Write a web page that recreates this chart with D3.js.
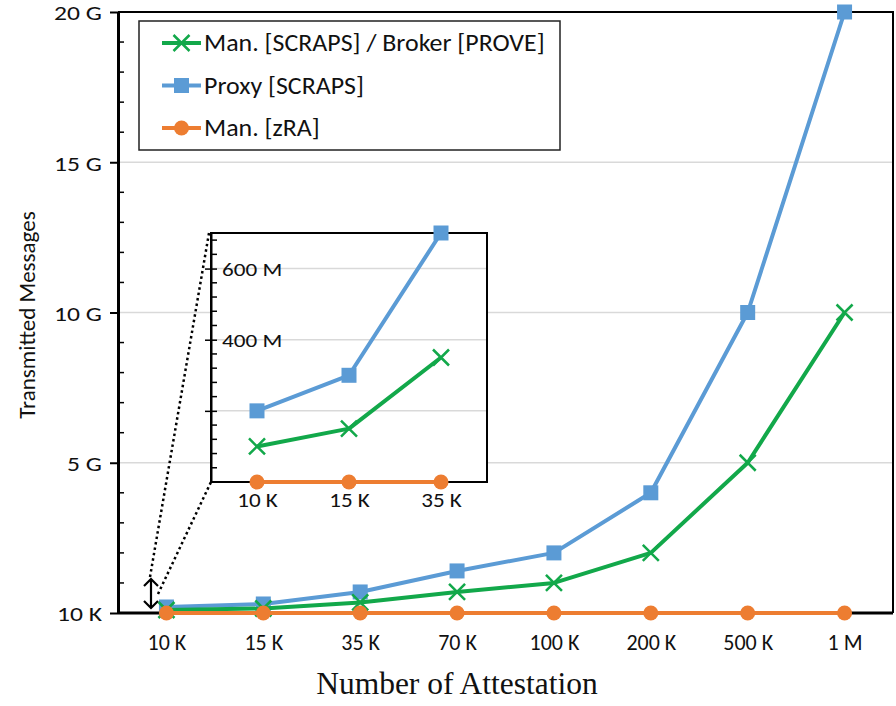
<!DOCTYPE html>
<html><head><meta charset="utf-8">
<script src="https://cdn.jsdelivr.net/npm/d3@7"></script>
<style>body{margin:0;background:#fff}svg{display:block}</style>
</head><body>
<svg id="c" width="896" height="706"></svg>
<script>
const categories = ["10 K","15 K","35 K","70 K","100 K","200 K","500 K","1 M"];
const manScrapsBroker = [100e6,150e6,350e6,700e6,1e9,2e9,5e9,10e9];
const proxyScraps = [200e6,300e6,700e6,1.4e9,2e9,4e9,10e9,20e9];
const manZra = [10e3,15e3,35e3,70e3,100e3,200e3,500e3,1e6];
const mainTicks = [10e3,5e9,10e9,15e9,20e9];
const mainTickLabels = ["10 K","5 G","10 G","15 G","20 G"];
const insetCategories = categories.slice(0,3);
const insetTicks = [200e6,400e6,600e6];
const insetTickLabels = ["","400 M","600 M"];
const seriesNames = ["Man. [SCRAPS] / Broker [PROVE]","Proxy [SCRAPS]","Man. [zRA]"];

const C = {green:"#12a84a", blue:"#5b9bd5", orange:"#ed7d31", grid:"#d9d9d9"};
const FONT = "Carlito, Lato, sans-serif";
const svg = d3.select("#c");

const L=118,R=893,T=12,B=613;
const x = d3.scalePoint().domain(categories).range([L,R]).padding(0.5);
const y = d3.scaleLinear().domain([10e3,20e9]).range([B,T]);

// gridlines
svg.append("g").selectAll("line").data([5e9,10e9,15e9]).join("line")
  .attr("x1",L).attr("x2",R).attr("y1",d=>y(d)).attr("y2",d=>y(d))
  .attr("stroke",C.grid).attr("stroke-width",1.5);

// frame top/right
svg.append("path").attr("d",`M${L},${T}H${R}V${B}`).attr("fill","none").attr("stroke","#000").attr("stroke-width",2);

// minor ticks
svg.append("g").selectAll("line").data(d3.range(1,20).filter(i=>i%5)).join("line")
  .attr("x1",L).attr("x2",L+6).attr("y1",d=>y(d*1e9)).attr("y2",d=>y(d*1e9))
  .attr("stroke","#000").attr("stroke-width",1.5);

// y axis
const yAxis = svg.append("g").attr("transform",`translate(${L},0)`)
  .call(d3.axisLeft(y).tickValues(mainTicks).tickFormat((d,i)=>mainTickLabels[i]).tickSizeOuter(0).tickSizeInner(8).tickPadding(8));
yAxis.select(".domain").attr("stroke-width",3);
yAxis.selectAll(".tick line").attr("stroke-width",2);
yAxis.selectAll("text").attr("font-family",FONT).attr("font-size",21).attr("fill","#111")
  .attr("x",0).attr("dy","0.37em").attr("transform","translate(-16,0) scale(1.22,1)");

// x axis
const xAxis = svg.append("g").attr("transform",`translate(0,${B})`)
  .call(d3.axisBottom(x).tickSize(0).tickPadding(21));
xAxis.select(".domain").attr("stroke-width",3).attr("d",`M${L},0H${R}`);
xAxis.selectAll("text").attr("font-family",FONT).attr("font-size",22).attr("fill","#111");

function drawSeries(g, xs, ys, vals, color, kind, cats){
  const line = d3.line().x((d,i)=>xs(cats[i])).y(d=>ys(d));
  g.append("path").datum(vals).attr("d",line).attr("fill","none").attr("stroke",color).attr("stroke-width",4).attr("stroke-linejoin","round");
  drawMarkers(g, vals.map((v,i)=>[xs(cats[i]),ys(v)]), color, kind);
}
function drawMarkers(g, pts, color, kind){
  const m = g.append("g");
  pts.forEach(([px,py])=>{
    if(kind==="square") m.append("rect").attr("x",px-7.5).attr("y",py-7.5).attr("width",15).attr("height",15).attr("fill",color);
    else if(kind==="circle") m.append("circle").attr("cx",px).attr("cy",py).attr("r",7.5).attr("fill",color);
    else m.append("path").attr("d",`M${px-8},${py-8}L${px+8},${py+8}M${px-8},${py+8}L${px+8},${py-8}`).attr("stroke",color).attr("stroke-width",2.5);
  });
}
const mg = svg.append("g");
drawSeries(mg,x,y,proxyScraps,C.blue,"square",categories);
drawSeries(mg,x,y,manScrapsBroker,C.green,"x",categories);
drawSeries(mg,x,y,manZra,C.orange,"circle",categories);

// legend
const lg = svg.append("g");
lg.append("rect").attr("x",139).attr("y",21).attr("width",421).attr("height",129).attr("fill","#fff").attr("stroke","#222").attr("stroke-width",1.5);
const legendKinds = [["x",C.green],["square",C.blue],["circle",C.orange]];
seriesNames.forEach((name,i)=>{
  const ly = 43 + i*42.5;
  const [kind,color] = legendKinds[i];
  lg.append("line").attr("x1",162).attr("x2",201).attr("y1",ly).attr("y2",ly).attr("stroke",color).attr("stroke-width",4);
  drawMarkers(lg,[[181.5,ly]],color,kind);
  lg.append("text").attr("transform",`translate(204,${ly}) scale(1.08,1)`).attr("dy","0.35em")
    .attr("font-family",FONT).attr("font-size",24).attr("fill","#111").text(name);
});

// titles
svg.append("text").attr("transform","translate(35,315) rotate(-90)").attr("text-anchor","middle")
  .attr("font-family",FONT).attr("font-size",23).attr("fill","#111").text("Transmitted Messages");
svg.append("text").attr("x",457).attr("y",694).attr("text-anchor","middle")
  .attr("font-family","'Liberation Serif', serif").attr("font-size",31.5).attr("fill","#111").text("Number of Attestation");

// inset
const IL=211, IR=487, IT=233, IB=482;
const xi = d3.scalePoint().domain(insetCategories).range([IL,IR]).padding(0.5);
const yi = d3.scaleLinear().domain([10e3,700e6]).range([IB,IT]);

// dotted connectors
svg.append("path").attr("d",`M150,577L${IL-2},${IT}M158,594L${IL},${IB}`).attr("fill","none")
  .attr("stroke","#000").attr("stroke-width",2.5).attr("stroke-dasharray","2.5,3");
// double arrow
svg.append("path").attr("d","M151,579V608M144,586L151,579L158,586M144,601L151,608L158,601")
  .attr("fill","none").attr("stroke","#000").attr("stroke-width",2.2);

const ig = svg.append("g");
ig.append("rect").attr("x",IL).attr("y",IT).attr("width",IR-IL).attr("height",IB-IT).attr("fill","#fff");
ig.append("g").selectAll("line").data(insetTicks).join("line")
  .attr("x1",IL).attr("x2",IR).attr("y1",d=>yi(d)).attr("y2",d=>yi(d)).attr("stroke",C.grid).attr("stroke-width",1.5);
ig.append("path").attr("d",`M${IL},${IT}H${IR}V${IB}H${IL}Z`).attr("fill","none").attr("stroke","#000").attr("stroke-width",2);
// inset minor ticks
ig.append("g").selectAll("line").data(d3.range(1,18).map(i=>i*40e6).filter(v=>v%200e6!==0)).join("line")
  .attr("x1",IL).attr("x2",IL+6).attr("y1",d=>yi(d)).attr("y2",d=>yi(d)).attr("stroke","#000").attr("stroke-width",1.5);
const iy = ig.append("g").attr("transform",`translate(${IL},0)`)
  .call(d3.axisRight(yi).tickValues(insetTicks).tickFormat((d,i)=>insetTickLabels[i]).tickSizeOuter(0).tickSizeInner(6).tickPadding(4));
iy.select(".domain").attr("stroke-width",2);
iy.selectAll(".tick line").attr("x1",-6).attr("stroke-width",1.5);
iy.selectAll("text").attr("font-family",FONT).attr("font-size",19).attr("fill","#111")
  .attr("x",0).attr("dy","0.35em").attr("transform","translate(11,0) scale(1.22,1)");
const ix = ig.append("g").attr("transform",`translate(0,${IB})`)
  .call(d3.axisBottom(xi).tickSize(0).tickPadding(10));
ix.select(".domain").remove();
ix.selectAll("text").attr("font-family",FONT).attr("font-size",21).attr("fill","#111")
  .attr("transform","scale(1.1,1)").attr("x",function(){return 0;});
ix.selectAll(".tick").each(function(){ /* keep tick text centered under scaled transform */ });
drawSeries(ig,xi,yi,proxyScraps.slice(0,3),C.blue,"square",insetCategories);
drawSeries(ig,xi,yi,manScrapsBroker.slice(0,3),C.green,"x",insetCategories);
drawSeries(ig,xi,yi,manZra.slice(0,3),C.orange,"circle",insetCategories);
</script>
</body></html>
